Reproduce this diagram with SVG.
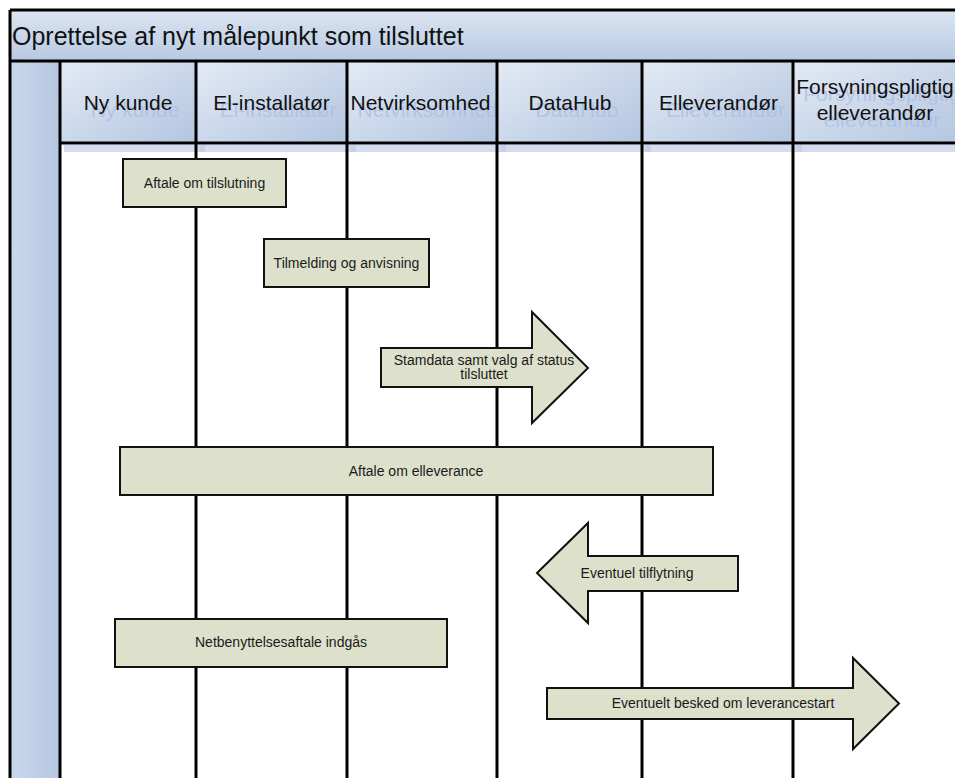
<svg xmlns="http://www.w3.org/2000/svg" width="955" height="778" viewBox="0 0 955 778">
<defs>
<linearGradient id="gTitle" x1="0" y1="0" x2="0" y2="1">
<stop offset="0" stop-color="#dce5f2"/>
<stop offset="1" stop-color="#b7c9e3"/>
</linearGradient>
<linearGradient id="gCell" x1="0" y1="0" x2="1" y2="1">
<stop offset="0" stop-color="#e3eaf5"/>
<stop offset="1" stop-color="#b3c5e0"/>
</linearGradient>
<linearGradient id="gLeft" x1="0" y1="0" x2="1" y2="0">
<stop offset="0" stop-color="#cad8ec"/>
<stop offset="1" stop-color="#b4c6e1"/>
</linearGradient>
<style>
.cell{fill:url(#gCell);}
.hdr{font-family:"Liberation Sans",Arial,sans-serif;font-size:21px;fill:#111;text-anchor:middle;}
.hsh{font-family:"Liberation Sans",Arial,sans-serif;font-size:21px;fill:#a9bee2;fill-opacity:0.75;text-anchor:middle;}
.box{fill:#dde1cb;stroke:#111;stroke-width:2;stroke-linejoin:miter;}
.lbl{font-family:"Liberation Sans",Arial,sans-serif;font-size:14px;fill:#1a1a1a;text-anchor:middle;}
.ln{stroke:#000;stroke-width:3;fill:none;}
.shd{fill:#d3ddef;}
.shd2{fill:#c3d2ea;}
</style>
</defs>
<rect x="0" y="0" width="955" height="778" fill="#fff"/>

<g id="pool">
<rect x="10" y="10" width="950" height="51" fill="url(#gTitle)"/>
<text x="12" y="45" font-family="Liberation Sans, Arial, sans-serif" font-size="25" fill="#111">Oprettelse af nyt målepunkt som tilsluttet</text>
<rect x="10" y="61" width="50" height="720" fill="url(#gLeft)"/>
</g>

<g id="lane-ny-kunde">
<rect class="cell" x="60" y="61" width="136" height="82"/>
<text class="hsh" x="135" y="117">Ny kunde</text>
<text class="hdr" x="128" y="110">Ny kunde</text>
</g>
<g id="lane-el-installator">
<rect class="cell" x="196" y="61" width="151" height="82"/>
<text class="hsh" x="278" y="117">El-installatør</text>
<text class="hdr" x="271.5" y="110">El-installatør</text>
</g>
<g id="lane-netvirksomhed">
<rect class="cell" x="347" y="61" width="150" height="82"/>
<text class="hsh" x="427.5" y="117">Netvirksomhed</text>
<text class="hdr" x="420.5" y="110">Netvirksomhed</text>
</g>
<g id="lane-datahub">
<rect class="cell" x="497" y="61" width="145" height="82"/>
<text class="hsh" x="577" y="117">DataHub</text>
<text class="hdr" x="570" y="110">DataHub</text>
</g>
<g id="lane-elleverandor">
<rect class="cell" x="642" y="61" width="151" height="82"/>
<text class="hsh" x="725.5" y="117">Elleverandør</text>
<text class="hdr" x="718.5" y="110">Elleverandør</text>
</g>
<g id="lane-forsyningspligtig">
<rect class="cell" x="793" y="61" width="170" height="82"/>
<text class="hsh" x="882" y="101">Forsyningspligtig</text>
<text class="hsh" x="882" y="127">elleverandør</text>
<text class="hdr" x="875" y="94">Forsyningspligtig</text>
<text class="hdr" x="875" y="120">elleverandør</text>
</g>

<g id="header-shadow">
<rect class="shd" x="64" y="145" width="891" height="7"/>
<rect class="shd2" x="199" y="145" width="6" height="7"/>
<rect class="shd2" x="350" y="145" width="6" height="7"/>
<rect class="shd2" x="500" y="145" width="6" height="7"/>
<rect class="shd2" x="645" y="145" width="6" height="7"/>
<rect class="shd2" x="796" y="145" width="6" height="7"/>
</g>

<g id="connectors">
<line class="ln" x1="10" y1="10" x2="955" y2="10"/>
<line class="ln" x1="10" y1="61" x2="955" y2="61"/>
<line class="ln" x1="60" y1="143" x2="955" y2="143"/>
<line class="ln" x1="10" y1="10" x2="10" y2="778"/>
<line class="ln" x1="60" y1="61" x2="60" y2="778"/>
<line class="ln" x1="196" y1="61" x2="196" y2="778"/>
<line class="ln" x1="347" y1="61" x2="347" y2="778"/>
<line class="ln" x1="497" y1="61" x2="497" y2="778"/>
<line class="ln" x1="642" y1="61" x2="642" y2="778"/>
<line class="ln" x1="793" y1="61" x2="793" y2="778"/>
</g>

<g id="aftale-om-tilslutning">
<rect class="box" x="123" y="159" width="163" height="48"/>
<text class="lbl" x="204.5" y="188">Aftale om tilslutning</text>
</g>
<g id="tilmelding-og-anvisning">
<rect class="box" x="264" y="239" width="165" height="48"/>
<text class="lbl" x="346.5" y="268">Tilmelding og anvisning</text>
</g>
<g id="stamdata">
<polygon class="box" points="381,348 532,348 532,312 588,368 532,423 532,387 381,387"/>
<text class="lbl" x="484" y="365">Stamdata samt valg af status</text>
<text class="lbl" x="484" y="379">tilsluttet</text>
</g>
<g id="aftale-om-elleverance">
<rect class="box" x="120" y="447" width="593" height="48"/>
<text class="lbl" x="416" y="476">Aftale om elleverance</text>
</g>
<g id="eventuel-tilflytning">
<polygon class="box" points="537,573 588,523 588,556 738,556 738,591 588,591 588,623"/>
<text class="lbl" x="637" y="578">Eventuel tilflytning</text>
</g>
<g id="netbenyttelsesaftale">
<rect class="box" x="115" y="619" width="332" height="48"/>
<text class="lbl" x="281" y="647">Netbenyttelsesaftale indgås</text>
</g>
<g id="eventuelt-besked">
<polygon class="box" points="547,688 853,688 853,658 899,703.5 853,749 853,719 547,719"/>
<text class="lbl" x="723" y="708">Eventuelt besked om leverancestart</text>
</g>
</svg>
